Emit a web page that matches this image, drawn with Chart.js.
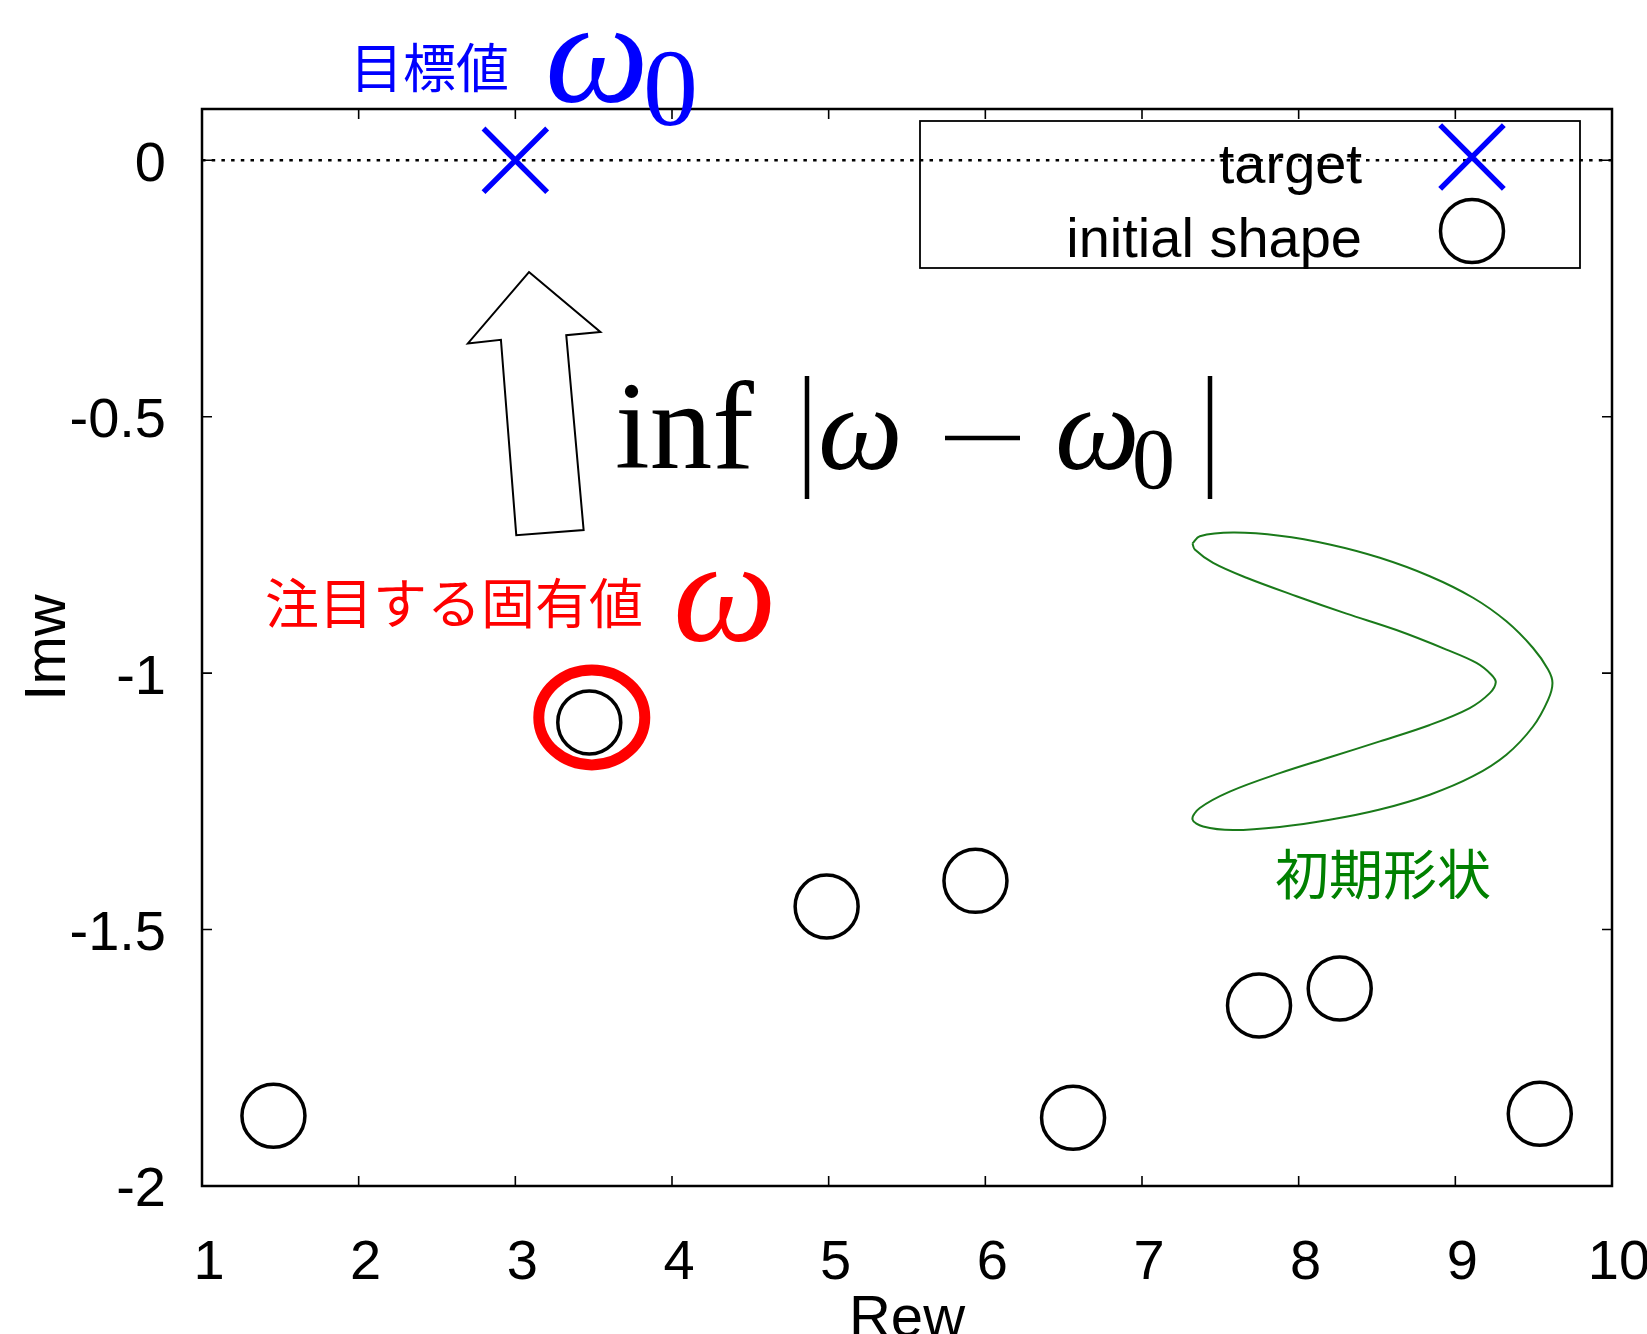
<!DOCTYPE html>
<html>
<head>
<meta charset="utf-8">
<script src="https://cdn.jsdelivr.net/npm/chart.js@4.4.1/dist/chart.umd.min.js"></script>
<style>
  html, body { margin: 0; padding: 0; background: #fff; }
  canvas { display: block; }
</style>
</head>
<body>
<canvas id="chart" width="1647" height="1334"></canvas>
<script>
// axis ticks
var xTicks = [1, 2, 3, 4, 5, 6, 7, 8, 9, 10];
var yTicks = [0, -0.5, -1, -1.5, -2];

// target eigenvalue omega_0
var targetRe = [3.0];
var targetIm = [0];

// eigenvalues of the initial shape
var eigenRe = [1.456, 3.472, 4.987, 5.937, 6.560, 7.747, 8.262, 9.539];
var eigenIm = [-1.863, -1.096, -1.455, -1.405, -1.867, -1.648, -1.615, -1.859];

// the eigenvalue we follow (index into eigenRe / eigenIm)
var focusIndex = 1;

// outline of the initial shape, closed loop
var outlineRe = [7.322, 7.369, 7.581, 7.879, 8.198, 8.518, 8.837, 9.113, 9.326, 9.496, 9.592, 9.620,
  9.592, 9.496, 9.326, 9.113, 8.837, 8.518, 8.198, 7.879, 7.581, 7.390, 7.322,
  7.369, 7.560, 7.879, 8.198, 8.518, 8.837, 9.092, 9.220, 9.258,
  9.230, 9.135, 8.943, 8.624, 8.305, 7.986, 7.667, 7.454, 7.337, 7.322];
var outlineIm = [-0.747, -0.733, -0.726, -0.732, -0.749, -0.775, -0.811, -0.853, -0.899, -0.951, -0.993, -1.019,
  -1.052, -1.104, -1.159, -1.201, -1.237, -1.266, -1.286, -1.300, -1.306, -1.299, -1.285,
  -1.263, -1.231, -1.195, -1.164, -1.133, -1.101, -1.068, -1.039, -1.018,
  -1.003, -0.980, -0.954, -0.916, -0.884, -0.850, -0.814, -0.785, -0.759, -0.747];

// hollow arrow pointing from the eigenvalue up towards the target
var arrowRe = [3.087, 3.543, 3.325, 3.436, 3.006, 2.908, 2.697];
var arrowIm = [-0.218, -0.335, -0.341, -0.721, -0.731, -0.350, -0.357];

function toPoints(xs, ys) {
  return xs.map(function (x, i) { return { x: x, y: ys[i] }; });
}

var SANS = '"Liberation Sans", Arial, sans-serif';
var SERIF = '"Liberation Serif", "DejaVu Serif", serif';
var CJK = '"Noto Sans CJK JP", sans-serif';

// inward tick marks on all four sides plus the box
var framePlugin = {
  id: 'frame',
  beforeDatasetsDraw: function (chart) {
    var ctx = chart.ctx;
    var a = chart.chartArea;
    var sx = chart.scales.x;
    var sy = chart.scales.y;
    ctx.save();
    ctx.strokeStyle = '#000';
    ctx.lineWidth = 1.6;
    ctx.beginPath();
    xTicks.forEach(function (v) {
      var px = sx.getPixelForValue(v);
      ctx.moveTo(px, a.bottom);
      ctx.lineTo(px, a.bottom - 10);
      ctx.moveTo(px, a.top);
      ctx.lineTo(px, a.top + 10);
    });
    yTicks.forEach(function (v) {
      var py = sy.getPixelForValue(v);
      ctx.moveTo(a.left, py);
      ctx.lineTo(a.left + 10, py);
      ctx.moveTo(a.right, py);
      ctx.lineTo(a.right - 10, py);
    });
    ctx.stroke();
    ctx.lineWidth = 2.5;
    ctx.strokeRect(a.left, a.top, a.right - a.left, a.bottom - a.top);
    ctx.restore();
  }
};

// boxed legend, text right aligned and marker on the right
var legendPlugin = {
  id: 'boxLegend',
  afterDraw: function (chart) {
    var ctx = chart.ctx;
    var items = chart.data.datasets.filter(function (ds) { return ds.inLegend; });
    ctx.save();
    ctx.strokeStyle = '#000';
    ctx.lineWidth = 1.8;
    ctx.strokeRect(920, 121, 660, 147);
    ctx.font = '56px ' + SANS;
    ctx.textAlign = 'right';
    ctx.textBaseline = 'alphabetic';
    items.forEach(function (ds, i) {
      var cy = 157 + i * 74;
      ctx.fillStyle = '#000';
      ctx.fillText(ds.label, 1362, cy + 26);
      ctx.strokeStyle = ds.borderColor;
      ctx.fillStyle = 'rgba(0,0,0,0)';
      ctx.lineWidth = ds.pointBorderWidth;
      Chart.helpers.drawPoint(ctx, {
        pointStyle: ds.pointStyle,
        rotation: 0,
        radius: ds.pointRadius,
        borderWidth: ds.pointBorderWidth
      }, 1472, cy);
    });
    ctx.restore();
  }
};

// arrow, highlight ring and text labels
var notesPlugin = {
  id: 'notes',
  afterDraw: function (chart) {
    var ctx = chart.ctx;
    var sx = chart.scales.x;
    var sy = chart.scales.y;
    ctx.save();

    ctx.beginPath();
    arrowRe.forEach(function (x, i) {
      var px = sx.getPixelForValue(x);
      var py = sy.getPixelForValue(arrowIm[i]);
      if (i === 0) ctx.moveTo(px, py); else ctx.lineTo(px, py);
    });
    ctx.closePath();
    ctx.fillStyle = '#fff';
    ctx.fill();
    ctx.strokeStyle = '#000';
    ctx.lineWidth = 2;
    ctx.lineJoin = 'miter';
    ctx.stroke();

    // ring around the followed eigenvalue
    var cx = sx.getPixelForValue(eigenRe[focusIndex]) + 2.5;
    var cy = sy.getPixelForValue(eigenIm[focusIndex]) - 5;
    ctx.beginPath();
    ctx.ellipse(cx, cy, 53, 47.5, 0, 0, Math.PI * 2);
    ctx.strokeStyle = '#ff0000';
    ctx.lineWidth = 11;
    ctx.stroke();

    ctx.textAlign = 'left';

    // 目標値 ω0
    ctx.fillStyle = '#0000ff';
    ctx.font = '53px ' + CJK;
    ctx.textBaseline = 'middle';
    ctx.fillText('目標値', 350, 68);
    ctx.textBaseline = 'alphabetic';
    ctx.font = 'italic 147px ' + SERIF;
    ctx.fillText('ω', 545, 102);
    ctx.font = '110px ' + SERIF;
    ctx.fillText('0', 643, 125);

    // 注目する固有値 ω
    ctx.fillStyle = '#ff0000';
    ctx.font = '54px ' + CJK;
    ctx.textBaseline = 'middle';
    ctx.fillText('注目する固有値', 265, 603);
    ctx.textBaseline = 'alphabetic';
    ctx.font = 'italic 147px ' + SERIF;
    ctx.fillText('ω', 673, 641);

    // 初期形状
    ctx.fillStyle = '#008000';
    ctx.font = '54px ' + CJK;
    ctx.textBaseline = 'middle';
    ctx.fillText('初期形状', 1275, 874);

    // inf |ω − ω0|
    ctx.fillStyle = '#000';
    ctx.strokeStyle = '#000';
    ctx.textBaseline = 'alphabetic';
    ctx.font = '125px ' + SERIF;
    ctx.fillText('inf', 615, 468);
    ctx.font = 'italic 120px ' + SERIF;
    ctx.fillText('ω', 818, 469);
    ctx.fillText('ω', 1055, 469);
    ctx.font = '86px ' + SERIF;
    ctx.fillText('0', 1132, 488);
    ctx.lineWidth = 4.5;
    ctx.lineCap = 'butt';
    ctx.beginPath();
    ctx.moveTo(807, 376); ctx.lineTo(807, 499);
    ctx.moveTo(1210, 376); ctx.lineTo(1210, 499);
    ctx.moveTo(945, 438); ctx.lineTo(1020, 438);
    ctx.stroke();

    ctx.restore();
  }
};

new Chart(document.getElementById('chart'), {
  type: 'scatter',
  data: {
    datasets: [
      {
        label: 'target',
        inLegend: true,
        data: toPoints(targetRe, targetIm),
        pointStyle: 'crossRot',
        pointRadius: 45,
        pointBorderWidth: 5.5,
        borderColor: '#0000ff',
        backgroundColor: 'rgba(0,0,0,0)',
        showLine: false
      },
      {
        label: 'initial shape',
        inLegend: true,
        data: toPoints(eigenRe, eigenIm),
        pointStyle: 'circle',
        pointRadius: 31.5,
        pointBorderWidth: 3.5,
        borderColor: '#000',
        backgroundColor: 'rgba(0,0,0,0)',
        showLine: false
      },
      {
        label: 'Im = 0',
        data: [{ x: xTicks[0], y: 0 }, { x: xTicks[xTicks.length - 1], y: 0 }],
        showLine: true,
        borderColor: '#000',
        borderWidth: 2.5,
        borderDash: [3.5, 6.2],
        pointRadius: 0
      },
      {
        label: 'outline',
        data: toPoints(outlineRe, outlineIm),
        showLine: true,
        tension: 0.35,
        borderColor: '#1a7a1a',
        borderWidth: 2,
        pointRadius: 0
      }
    ]
  },
  options: {
    responsive: false,
    animation: false,
    events: [],
    layout: {
      autoPadding: false,
      padding: { top: 109, right: 35, left: 0, bottom: 0 }
    },
    plugins: {
      legend: { display: false },
      tooltip: { enabled: false }
    },
    scales: {
      x: {
        type: 'linear',
        min: 1,
        max: 10,
        // tick marks are drawn by the frame plugin; tickLength only spaces the labels
        grid: { display: false, drawTicks: true, tickLength: 44 },
        border: { display: false },
        afterBuildTicks: function (scale) {
          scale.ticks = xTicks.map(function (v) { return { value: v }; });
        },
        afterFit: function (scale) {
          scale.height = 148;
          scale.paddingLeft = 0;
          scale.paddingRight = 0;
        },
        ticks: {
          autoSkip: false,
          maxRotation: 0,
          padding: 0,
          labelOffset: 7,
          color: '#000',
          font: { family: SANS, size: 56 },
          callback: function (v) { return String(v); }
        },
        title: {
          display: true,
          text: 'Rew',
          color: '#000',
          padding: 0,
          font: { family: SANS, size: 58, lineHeight: 0.5 }
        }
      },
      y: {
        type: 'linear',
        min: -2,
        max: 0.1,
        grid: { display: false, drawTicks: false },
        border: { display: false },
        afterBuildTicks: function (scale) {
          scale.ticks = yTicks.map(function (v) { return { value: v }; });
        },
        afterFit: function (scale) {
          scale.width = 202;
          scale.paddingTop = 0;
          scale.paddingBottom = 0;
        },
        ticks: {
          autoSkip: false,
          padding: 36,
          labelOffset: 5,
          color: '#000',
          font: { family: SANS, size: 56 },
          callback: function (v) { return String(v); }
        },
        title: {
          display: true,
          text: 'Imw',
          color: '#000',
          padding: { top: 27, bottom: 0 },
          font: { family: SANS, size: 58, lineHeight: 0.75 }
        }
      }
    }
  },
  plugins: [framePlugin, legendPlugin, notesPlugin]
});
</script>
</body>
</html>
